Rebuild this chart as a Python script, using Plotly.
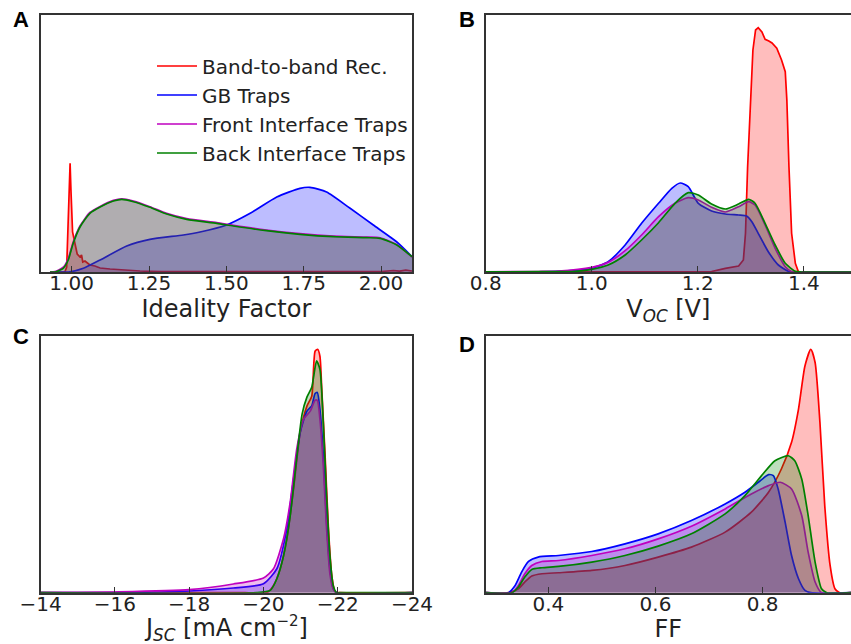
import plotly.graph_objects as go

W, H = 851, 644

# ---------------- data (density, arbitrary units) ----------------
series_names = ["Band-to-band Rec.", "GB Traps", "Front Interface Traps", "Back Interface Traps"]
series_colors = ["#ff0000", "#0000ff", "#bf00bf", "#008000"]
fill_colors = ["rgba(255,0,0,0.26)", "rgba(0,0,255,0.26)", "rgba(191,0,191,0.26)", "rgba(0,128,0,0.26)"]

# Panel A : Ideality factor
a_red_x = [0.95, 0.978, 0.984, 0.989, 0.992, 0.995, 0.998, 1.003, 1.011, 1.018, 1.027, 1.032, 1.036,
           1.043, 1.051, 1.059, 1.075, 1.092, 1.124, 1.167, 1.221, 1.29, 1.6, 2.0, 2.04, 2.06, 2.08, 2.1]
a_red_y = [0, 0, 5, 60, 90, 108.7, 80, 40, 28, 18, 15, 17, 10,
           11, 9, 7, 6, 4, 3, 2, 1, 0.3, 0.2, 0.5, 1.5, 0.8, 2, 1]
a_gb_x = [0.95, 0.99, 1.038, 1.092, 1.178, 1.253, 1.361, 1.415, 1.501, 1.577, 1.663, 1.738, 1.770,
          1.824, 1.9, 1.975, 2.051, 2.1]
a_gb_y = [0, 0, 3.7, 12, 26, 32.7, 37, 40, 47, 58.7, 75, 83.7, 84.7,
          80, 63.7, 47, 30, 15.3]
a_front_x = [0.93, 0.946, 0.973, 0.989, 1.005, 1.027, 1.059, 1.092, 1.135, 1.162, 1.2, 1.253, 1.307,
             1.372, 1.469, 1.523, 1.630, 1.738, 1.846, 1.954, 1.997, 2.051, 2.1]
a_front_y = [0, 0.5, 4.8, 13.5, 30, 46, 59.5, 65.6, 71.6, 73.2, 70.9, 65.3, 58.6,
             53.3, 49.3, 46.6, 41.9, 38.3, 35.9, 34.9, 34.2, 27.3, 15.0]
a_back_x = [0.93, 0.946, 0.973, 0.989, 1.005, 1.027, 1.059, 1.092, 1.135, 1.162, 1.2, 1.253, 1.307,
            1.372, 1.469, 1.523, 1.630, 1.738, 1.846, 1.954, 1.997, 2.051, 2.1]
a_back_y = [0, 0, 3.7, 12, 28.7, 45, 58.7, 65, 71, 72.7, 70.3, 64.7, 58,
            52.7, 48.7, 46, 41.3, 37.7, 35.3, 34.3, 33.7, 27, 15.3]

# Panel B : Voc [V]
b_red_x = [0.8, 1.2, 1.226, 1.252, 1.277, 1.286, 1.29, 1.294, 1.299, 1.304, 1.309, 1.314, 1.321,
           1.327, 1.334, 1.340, 1.349, 1.358, 1.365, 1.368, 1.372, 1.377, 1.384, 1.39, 1.49]
b_red_y = [0, 0, 0.5, 3.7, 6, 12, 38.7, 105, 172, 222, 242, 244.3, 240,
           232.7, 231, 229, 223.7, 212, 200.3, 172, 105, 38.7, 8.7, 0, 0]
b_gb_x = [0.8, 0.9, 0.937, 1.0, 1.031, 1.063, 1.094, 1.126, 1.151, 1.167, 1.182, 1.201, 1.226,
          1.252, 1.277, 1.292, 1.302, 1.314, 1.333, 1.352, 1.371, 1.39, 1.49]
b_gb_y = [0, 0.2, 0.6, 3.7, 10.3, 27, 48.7, 68.7, 83.7, 89, 85.3, 68.7, 61,
          58, 57, 56, 50.3, 38.7, 20.3, 7, 0.7, 0, 0]
b_front_x = [0.8, 0.9, 0.937, 1.0, 1.031, 1.063, 1.094, 1.126, 1.157, 1.182, 1.201, 1.226, 1.252,
             1.277, 1.296, 1.308, 1.327, 1.346, 1.365, 1.377, 1.39, 1.49]
b_front_y = [0.2, 0.5, 1, 4.7, 9.7, 21.3, 37, 55.3, 68.7, 74.3, 72, 64.7, 60,
             65.3, 70.3, 67, 47, 23.7, 5.3, 0.5, 0, 0]
b_back_x = [0.8, 0.9, 0.969, 1.0, 1.031, 1.063, 1.094, 1.126, 1.157, 1.182, 1.201, 1.226, 1.252,
            1.277, 1.296, 1.308, 1.327, 1.346, 1.365, 1.384, 1.395, 1.49]
b_back_y = [0.2, 0.3, 0.6, 2.7, 7, 17, 32, 49.3, 68.7, 79.3, 77, 68, 63,
            68, 72.7, 68.7, 48.7, 27, 8.7, 0.7, 0, 0]

# Panel C : Jsc [mA cm^-2]
c_red_x = [-14, -19.5, -20.09, -20.27, -20.45, -20.63, -20.81, -20.99, -21.17, -21.30, -21.39, -21.46,
           -21.52, -21.57, -21.66, -21.75, -21.84, -21.93, -22.05, -24]
c_red_y = [0, 0, 0, 7.3, 24, 54, 104, 160.7, 187, 197, 242, 244,
           237, 204, 137, 64, 17, 0.7, 0, 0]
c_gb_x = [-14, -15.5, -16.5, -18, -19.19, -20, -20.36, -20.63, -20.81, -20.99, -21.17, -21.30, -21.39,
          -21.45, -21.52, -21.61, -21.70, -21.79, -21.88, -21.97, -24]
c_gb_y = [0, 0, 0.3, 1.7, 4.7, 9, 24, 64, 114, 160.7, 182, 187.3, 199.7,
          200.7, 184, 138.7, 70.7, 24, 4, 0, 0]
c_front_x = [-14, -15, -16, -18, -19.19, -20, -20.27, -20.54, -20.72, -20.9, -21.08, -21.26, -21.39,
             -21.45, -21.52, -21.61, -21.70, -21.79, -21.88, -21.97, -24]
c_front_y = [0, 0.2, 0.7, 3, 8.7, 14.7, 24, 54, 90.7, 145, 174, 182, 193,
             192.7, 174, 128, 64, 18.7, 3.7, 0, 0]
c_back_x = [-14, -19.8, -20.18, -20.36, -20.54, -20.72, -20.90, -21.04, -21.17, -21.30, -21.43, -21.52,
            -21.61, -21.70, -21.79, -21.88, -21.97, -22.05, -24]
c_back_y = [0, 0, 2.3, 14, 37, 77, 137, 179, 196, 206, 232.3, 224,
            171, 97, 37, 7, 0, 0, 0]

# Panel D : FF
d_red_x = [0.283, 0.325, 0.344, 0.356, 0.369, 0.388, 0.419, 0.481, 0.543, 0.605, 0.667, 0.730, 0.779,
           0.811, 0.835, 0.854, 0.867, 0.879, 0.890, 0.898, 0.907, 0.916, 0.926, 0.935, 0.944, 0.965]
d_red_y = [0, 0, 4, 10.7, 16.7, 19, 20, 22.3, 27.3, 35.7, 45.7, 60.7, 80.7,
           100.7, 124, 150.7, 184, 227.3, 244, 230.7, 170.7, 87.3, 27.3, 4, 0, 0]
d_gb_x = [0.283, 0.325, 0.338, 0.350, 0.363, 0.381, 0.419, 0.481, 0.543, 0.605, 0.667, 0.730, 0.767,
          0.792, 0.811, 0.820, 0.829, 0.842, 0.854, 0.867, 0.879, 0.89, 0.965]
d_gb_y = [0, 0, 7.3, 20.7, 31.3, 35.7, 37.3, 41.3, 49, 59, 72.3, 89, 100.7,
          110.7, 118.3, 117.3, 104, 70.7, 37.3, 14, 2.3, 0, 0]
d_front_x = [0.283, 0.332, 0.344, 0.356, 0.369, 0.388, 0.419, 0.481, 0.543, 0.605, 0.667, 0.730, 0.779,
             0.811, 0.833, 0.854, 0.873, 0.885, 0.898, 0.910, 0.965]
d_front_y = [0, 0, 7.3, 19, 27.3, 31.3, 32.3, 37.3, 44, 54, 66.7, 84, 99,
             107.3, 110.7, 104, 77.3, 40.7, 10.7, 0, 0]
d_back_x = [0.283, 0.332, 0.344, 0.356, 0.369, 0.388, 0.419, 0.481, 0.543, 0.605, 0.667, 0.730, 0.767,
            0.798, 0.823, 0.848, 0.860, 0.873, 0.885, 0.898, 0.910, 0.92, 0.965]
d_back_y = [0, 0, 5.7, 15.7, 23.3, 25, 26.3, 30.7, 37.3, 46.7, 59, 79, 97.3,
            117.3, 132.3, 137.3, 132.3, 114, 77.3, 30.7, 4, 0, 0]

a_ticks = [1.00, 1.25, 1.50, 1.75, 2.00]
b_ticks = [0.8, 1.0, 1.2, 1.4]
c_ticks = [-14, -16, -18, -20, -22, -24]
d_ticks = [0.4, 0.6, 0.8]

# ---------------- figure ----------------
fig = go.Figure()

panels = [
    ("x", "y", [(a_red_x, a_red_y), (a_gb_x, a_gb_y), (a_front_x, a_front_y), (a_back_x, a_back_y)]),
    ("x2", "y2", [(b_red_x, b_red_y), (b_gb_x, b_gb_y), (b_front_x, b_front_y), (b_back_x, b_back_y)]),
    ("x3", "y3", [(c_red_x, c_red_y), (c_gb_x, c_gb_y), (c_front_x, c_front_y), (c_back_x, c_back_y)]),
    ("x4", "y4", [(d_red_x, d_red_y), (d_gb_x, d_gb_y), (d_front_x, d_front_y), (d_back_x, d_back_y)]),
]

for pi, (xa, ya, data) in enumerate(panels):
    for si, (xs, ys) in enumerate(data):
        shape = "linear" if (pi in (0, 1) and si == 0) else "spline"
        fig.add_trace(go.Scatter(
            x=xs, y=ys, xaxis=xa, yaxis=ya, mode="lines",
            line=dict(color=series_colors[si], width=1.7, shape=shape, smoothing=0.6),
            fill="tozeroy", fillcolor=fill_colors[si],
            showlegend=False, hoverinfo="skip",
        ))

# legend entries (lines only)
for si, name in enumerate(series_names):
    fig.add_trace(go.Scatter(
        x=[None], y=[None], xaxis="x", yaxis="y", mode="lines",
        line=dict(color=series_colors[si], width=1.7), name=name, showlegend=True,
    ))

axis_color = "#333333"
tick_font = dict(family="DejaVu Sans", size=20, color="#222222")
title_font = dict(family="DejaVu Sans", size=24, color="#222222")


def xax(domain, rng, ticks, fmt, title, anchor, mirror=True, standoff=5):
    return dict(
        domain=domain, range=rng, anchor=anchor, tickvals=ticks,
        ticktext=[fmt(t) for t in ticks],
        ticks="inside", ticklen=6, tickwidth=1.2, tickcolor=axis_color,
        ticklabelstandoff=-8,
        showline=True, linecolor=axis_color, linewidth=1.6, mirror=mirror,
        showgrid=False, zeroline=False, tickfont=tick_font,
        title=dict(text=title, font=title_font, standoff=standoff),
        automargin=False,
    )


def yax(domain, anchor, mirror=True):
    return dict(
        domain=domain, range=[0, 257], anchor=anchor, showticklabels=False, ticks="",
        showline=True, linecolor=axis_color, linewidth=1.6, mirror=mirror,
        showgrid=False, zeroline=False, automargin=False,
    )


xl = [40.7 / W, 412 / W]
xr = [485.7 / W, 1.0]
yt = [1 - 272 / H, 1 - 15 / H]
yb = [1 - 592.7 / H, 1 - 336.3 / H]

fmt2 = lambda v: f"{v:.2f}"
fmt1 = lambda v: f"{v:.1f}"
fmtm = lambda v: f"\u2212{abs(v):d}"

fig.update_layout(
    width=W, height=H, margin=dict(l=0, r=0, t=0, b=0),
    paper_bgcolor="white", plot_bgcolor="white",
    xaxis=xax(xl, [0.9, 2.1], a_ticks, fmt2, "Ideality Factor", "y", standoff=4),
    yaxis=yax(yt, "x"),
    xaxis2=xax(xr, [0.8, 1.489], b_ticks, fmt1, "V<sub><i>OC</i></sub> [V]", "y2", standoff=4),
    yaxis2=yax(yt, "x2", mirror=False),
    xaxis3=xax(xl, [-14, -24], c_ticks, fmtm, "", "y3"),
    yaxis3=yax(yb, "x3"),
    xaxis4=xax(xr, [0.283, 0.965], d_ticks, fmt1, "FF", "y4", standoff=5),
    yaxis4=yax(yb, "x4", mirror=False),
    legend=dict(
        x=152 / W, y=1 - 46.5 / H, xanchor="left", yanchor="top",
        bgcolor="rgba(0,0,0,0)", borderwidth=0,
        font=dict(family="DejaVu Sans", size=20, color="#222222"),
        itemwidth=40, tracegroupgap=0,
    ),
    showlegend=True,
)

# x-axis title of panel C (placed as annotation to sit just under the tick labels)
fig.add_annotation(text="J<sub><i>SC</i></sub> [mA cm<sup><span style='font-size:15px'>\u22122</span></sup>]",
                   x=(xl[0] + xl[1]) / 2, y=0, xref="paper", yref="paper",
                   xanchor="center", yanchor="bottom", yshift=-3, showarrow=False,
                   font=title_font)

letter_font = dict(family="Liberation Sans, Arial", size=22, color="black")
for txt, px, py in [("A", 21, 20), ("B", 467, 20), ("C", 21, 336), ("D", 467, 344)]:
    fig.add_annotation(text=f"<b>{txt}</b>", x=px / W, y=1 - py / H, xref="paper", yref="paper",
                       showarrow=False, font=letter_font, xanchor="center", yanchor="middle")

fig.write_html("out.html")
